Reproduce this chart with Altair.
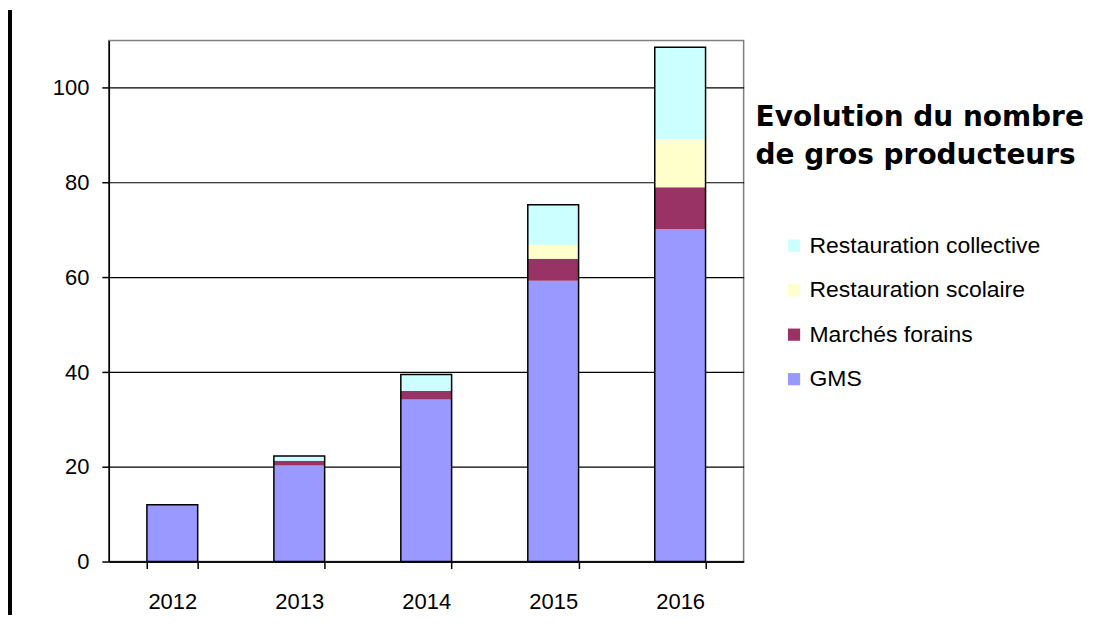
import altair as alt
import pandas as pd

years = ["2012", "2013", "2014", "2015", "2016"]
gms = [12, 20.3, 34.2, 59.3, 70.2]
marches = [0, 1.0, 1.8, 4.6, 8.8]
scolaire = [0, 0, 0, 3.0, 10.2]
collective = [0, 1.0, 3.5, 8.4, 19.4]

series_names = ["GMS", "Marchés forains", "Restauration scolaire", "Restauration collective"]
series_values = [gms, marches, scolaire, collective]
legend_order = ["Restauration collective", "Restauration scolaire", "Marchés forains", "GMS"]
legend_colors = ["#CCFFFF", "#FFFFCC", "#993366", "#9999FF"]
y_ticks = [0, 20, 40, 60, 80, 100]

rows = []
for i, yr in enumerate(years):
    for k, (name, vals) in enumerate(zip(series_names, series_values)):
        rows.append({"Année": yr, "Série": name, "Valeur": vals[i], "k": k})
df = pd.DataFrame(rows)

x_enc = alt.X(
    "Année:O",
    scale=alt.Scale(paddingInner=0.6, paddingOuter=0.3),
    axis=alt.Axis(
        title=None, labelAngle=0, tickBand="extent", tickSize=7,
        labelPadding=23, labelFont="Liberation Sans", labelFontSize=22,
        labelColor="black", domainColor="black", domainWidth=1.5,
        tickColor="black", tickWidth=1.5,
    ),
)

bars = alt.Chart(df).mark_bar(strokeWidth=0).encode(
    x=x_enc,
    y=alt.Y(
        "Valeur:Q", stack="zero",
        scale=alt.Scale(domain=[0, 110], nice=False),
        axis=alt.Axis(
            title=None, values=y_ticks, grid=True, gridColor="black",
            gridWidth=1.2, tickSize=7, labelPadding=13,
            labelFont="Liberation Sans", labelFontSize=22, labelColor="black",
            domainColor="black", domainWidth=1.5, tickColor="black", tickWidth=1.5,
        ),
    ),
    color=alt.Color(
        "Série:N",
        scale=alt.Scale(domain=legend_order, range=legend_colors),
        legend=alt.Legend(
            orient="none", legendX=648, legendY=64,
            title=["Evolution du nombre", "de gros producteurs"],
            titleFont="DejaVu Sans", titleFontWeight="bold", titleFontSize=28,
            titleLineHeight=38, titleColor="black", titlePadding=64,
            titleLimit=500, titleAnchor="start",
            labelFont="Liberation Sans", labelFontSize=23, labelColor="black",
            labelLimit=500, symbolType="square", symbolSize=150,
            symbolStrokeWidth=0, symbolOffset=27, labelOffset=4,
            rowPadding=20.6, padding=0,
        ),
    ),
    order=alt.Order("k:Q", sort="ascending"),
)

outline = alt.Chart(df).mark_bar(fillOpacity=0, stroke="black", strokeWidth=1.5).encode(
    x=alt.X("Année:O"),
    y=alt.Y("sum(Valeur):Q"),
)

frame = alt.Chart(df).mark_rule(color="black", strokeWidth=2.5).encode(
    x=alt.value(-99), y=alt.value(-30), y2=alt.value(575)
)

chart = (
    alt.layer(bars, outline, frame)
    .properties(width=636, height=522, padding={"left": 0, "top": 0, "right": 5, "bottom": 2},
                background="white")
    .configure_view(stroke="#808080", strokeWidth=1.5)
)

chart.save("out.html", embed_options={"renderer": "svg", "actions": False})
